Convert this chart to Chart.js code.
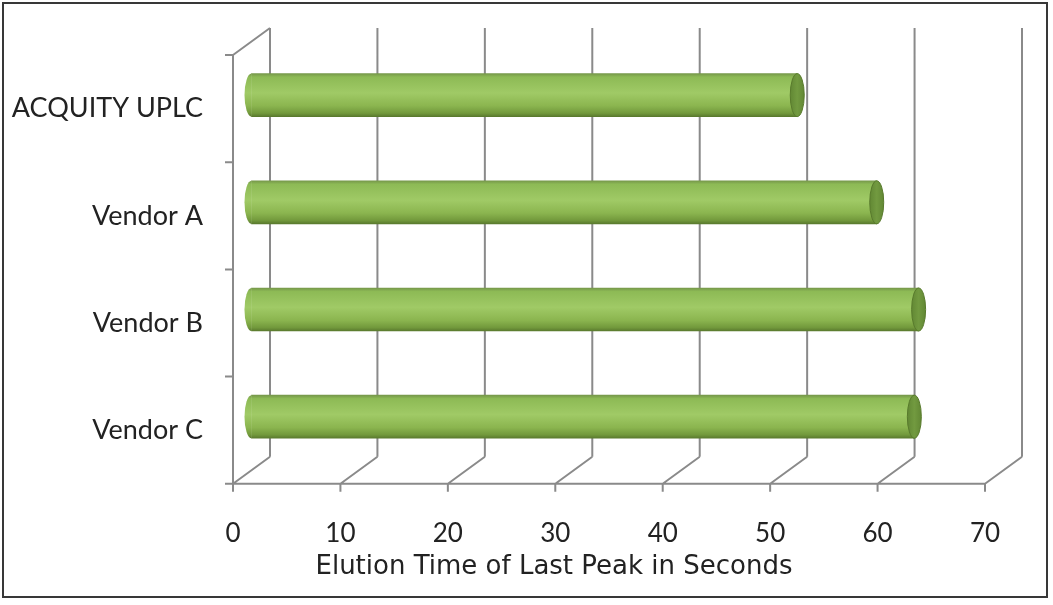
<!DOCTYPE html>
<html>
<head>
<meta charset="utf-8">
<script src="https://cdn.jsdelivr.net/npm/chart.js@4/dist/chart.umd.min.js"></script>
<style>
  html, body { margin: 0; padding: 0; background: #fff; }
  canvas { display: block; }
</style>
</head>
<body>
<canvas id="myChart" width="1053" height="605"></canvas>
<script>
// values
var categories = ['ACQUITY UPLC', 'Vendor A', 'Vendor B', 'Vendor C'];
var elutionSeconds = [50.8, 58.2, 62.1, 61.7];
var axisMin = 0, axisMax = 70, axisStep = 10;

// fake 3D depth of the plot box
var depthX = 37, depthY = -27;
var lineGray = '#8a8a8a';

function bodyGradient(c, y, h) {
  var g = c.createLinearGradient(0, y - h / 2, 0, y + h / 2);
  g.addColorStop(0, '#76984a');
  g.addColorStop(0.08, '#8dba55');
  g.addColorStop(0.45, '#a0ca66');
  g.addColorStop(0.75, '#8bb54f');
  g.addColorStop(0.92, '#72993c');
  g.addColorStop(1, '#5a7a2e');
  return g;
}

var frame3d = {
  id: 'frame3d',
  afterLayout: function(chart) {
    // the axis title sits a little left of the plot centre
    if (chart.titleBlock) chart.titleBlock.left = 55;
  },
  beforeDatasetsDraw: function(chart) {
    var c = chart.ctx, x = chart.scales.x;
    var top = chart.chartArea.top, bottom = chart.chartArea.bottom;
    var x0 = x.getPixelForValue(axisMin);
    c.save();
    c.strokeStyle = lineGray;
    c.lineWidth = 2;
    c.beginPath();
    x.ticks.forEach(function(t) {
      var px = x.getPixelForValue(t.value);
      // back wall line
      c.moveTo(px + depthX, top + depthY);
      c.lineTo(px + depthX, bottom + depthY);
      // floor diagonal
      c.moveTo(px, bottom);
      c.lineTo(px + depthX, bottom + depthY);
      // tick mark
      c.moveTo(px, bottom);
      c.lineTo(px, bottom + 8);
    });
    // front axes
    c.moveTo(x0, top);
    c.lineTo(x0, bottom);
    c.lineTo(x.getPixelForValue(axisMax), bottom);
    c.moveTo(x0, top);
    c.lineTo(x0 + depthX, top + depthY);
    // category separators on the left
    var band = (bottom - top) / categories.length;
    for (var i = 0; i <= categories.length; i++) {
      c.moveTo(x0 - 8, top + i * band);
      c.lineTo(x0, top + i * band);
    }
    c.stroke();
    c.restore();
    // bars sit half way into the box
    c.save();
    c.translate(depthX / 2, depthY / 2);
  },
  afterDatasetsDraw: function(chart) {
    var c = chart.ctx;
    chart.getDatasetMeta(0).data.forEach(function(bar) {
      var p = bar.getProps(['x', 'y', 'base', 'height'], true);
      var ry = p.height / 2, rx = 7;
      // rounded near side at the start
      c.beginPath();
      c.ellipse(p.base, p.y, rx, ry, 0, Math.PI / 2, Math.PI * 1.5);
      c.closePath();
      c.fillStyle = bodyGradient(c, p.y, p.height);
      c.fill();
      // end cap
      var g = c.createLinearGradient(p.x - rx, 0, p.x + rx, 0);
      g.addColorStop(0, '#628834');
      g.addColorStop(0.5, '#729a40');
      g.addColorStop(1, '#628834');
      c.beginPath();
      c.ellipse(p.x, p.y, rx, ry, 0, 0, Math.PI * 2);
      c.fillStyle = g;
      c.fill();
      c.strokeStyle = '#587a2c';
      c.lineWidth = 1;
      c.stroke();
    });
    c.restore();
  },
  afterDraw: function(chart) {
    var c = chart.ctx;
    c.save();
    c.strokeStyle = '#383838';
    c.lineWidth = 2;
    c.strokeRect(3, 3, 1044, 594);
    c.restore();
  }
};

var ctx = document.getElementById('myChart').getContext('2d');
var myChart = new Chart(ctx, {
  type: 'bar',
  data: {
    labels: categories,
    datasets: [{
      data: elutionSeconds,
      label: 'Elution time',
      barThickness: 43,
      clip: false,
      backgroundColor: function(context) {
        var chart = context.chart;
        if (!chart.chartArea) return '#9cc55c';
        var y = chart.scales.y.getPixelForValue(context.dataIndex);
        return bodyGradient(chart.ctx, y, 43);
      },
      borderWidth: 0
    }]
  },
  options: {
    indexAxis: 'y',
    responsive: false,
    animation: false,
    layout: {
      padding: { left: 0, right: 0, top: 55, bottom: 0 }
    },
    plugins: {
      legend: { display: false },
      tooltip: { enabled: false },
      title: {
        display: true,
        position: 'bottom',
        text: 'Elution Time of Last Peak in Seconds',
        color: '#222',
        font: { family: 'DejaVu Sans', size: 26, weight: 'normal' },
        padding: { top: 0, bottom: 22 }
      }
    },
    scales: {
      x: {
        min: axisMin,
        max: axisMax,
        grid: { display: false, drawTicks: false },
        border: { display: false },
        ticks: {
          stepSize: axisStep,
          padding: 34,
          color: '#222',
          font: { family: 'Lato', size: 26 }
        },
        afterFit: function(s) { s.height = 68; }
      },
      y: {
        grid: { display: false, drawTicks: false },
        border: { display: false },
        ticks: {
          padding: 30,
          color: '#222',
          font: { family: 'Lato', size: 27 }
        },
        afterFit: function(s) { s.width = 233; }
      },
      yRight: {
        type: 'linear',
        position: 'right',
        grid: { display: false, drawTicks: false },
        border: { display: false },
        ticks: { display: false },
        afterFit: function(s) { s.width = 68; }
      }
    }
  },
  plugins: [frame3d]
});
</script>
</body>
</html>
